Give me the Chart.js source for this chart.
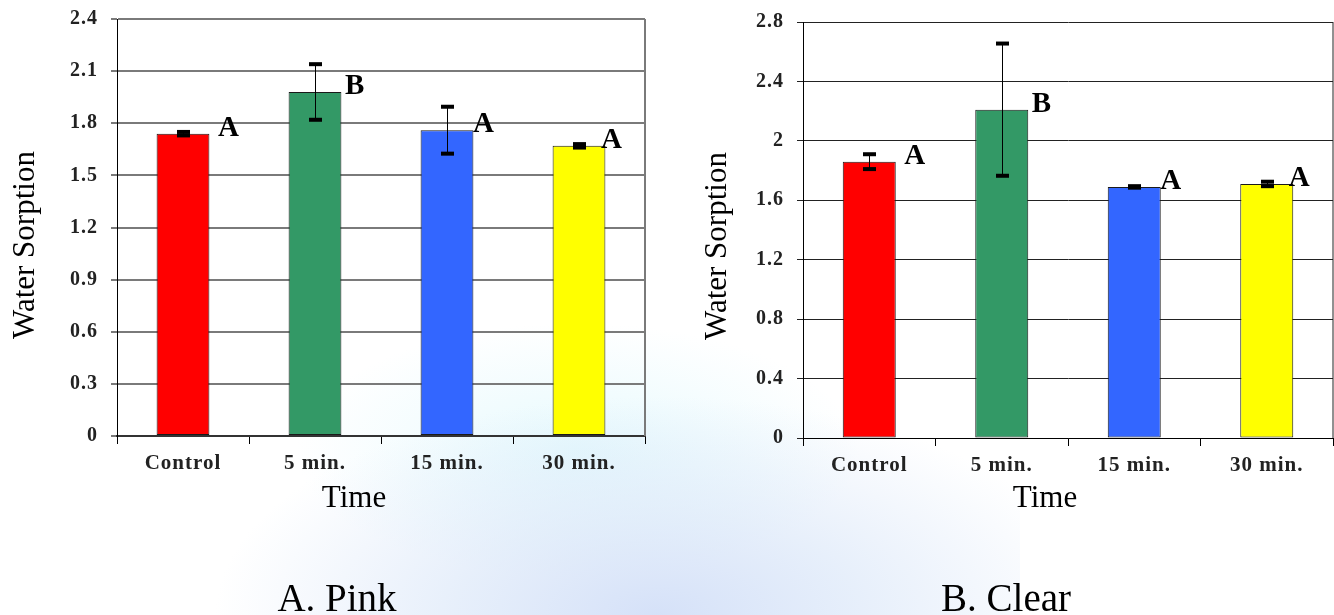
<!DOCTYPE html>
<html>
<head>
<meta charset="utf-8">
<script src="https://cdn.jsdelivr.net/npm/chart.js@4.4.0/dist/chart.umd.min.js"></script>
<style>
  html, body {
    margin: 0; padding: 0; background: #fff;
    width: 1334px; height: 615px; overflow: hidden; position: relative;
    font-family: "Liberation Serif", "Times New Roman", serif;
  }
  #haze {
    position: absolute; left: 215px; top: 250px; width: 805px; height: 365px;
    background:
      radial-gradient(ellipse 55% 60% at 55% 100%,
        rgba(206, 220, 247, 0.85) 0%,
        rgba(214, 228, 248, 0.6) 45%,
        rgba(255, 255, 255, 0) 100%),
      radial-gradient(ellipse 35% 35% at 45% 55%,
        rgba(214, 246, 252, 0.6) 0%,
        rgba(255, 255, 255, 0) 100%);
  }
  .panel { position: absolute; top: 0; height: 615px; }
  #pinkBox { left: 0; width: 660px; }
  #clearBox { left: 680px; width: 654px; }
  .caption {
    position: absolute; top: 578px; width: 300px; text-align: center;
    font-size: 39px; line-height: 39px; color: #000;
  }
</style>
</head>
<body>
<div id="haze"></div>
<div class="panel" id="pinkBox"><canvas id="pinkChart" width="660" height="615"></canvas></div>
<div class="panel" id="clearBox"><canvas id="clearChart" width="654" height="615"></canvas></div>
<div class="caption" style="left:187px">A. Pink</div>
<div class="caption" style="left:856px">B. Clear</div>

<script>
// Shared categories and bar colours
const categories = ['Control', '5 min.', '15 min.', '30 min.'];
const barColors = ['#ff0000', '#339966', '#3366ff', '#ffff00'];

// Pink resin: mean water sorption, standard deviation, significance groups
const pinkValues = [1.74, 1.98, 1.76, 1.67];
const pinkErrors = [0.01, 0.16, 0.135, 0.01];
const pinkLetters = ['A', 'B', 'A', 'A'];
const pinkTickValues = [0, 0.3, 0.6, 0.9, 1.2, 1.5, 1.8, 2.1, 2.4];
const pinkTickLabels = ['0', '0.3', '0.6', '0.9', '1.2', '1.5', '1.8', '2.1', '2.4'];

// Clear resin
const clearValues = [1.86, 2.21, 1.69, 1.71];
const clearErrors = [0.05, 0.445, 0.005, 0.015];
const clearLetters = ['A', 'B', 'A', 'A'];
const clearTickValues = [0, 0.4, 0.8, 1.2, 1.6, 2, 2.4, 2.8];
const clearTickLabels = ['0', '0.4', '0.8', '1.2', '1.6', '2', '2.4', '2.8'];

const yTitle = 'Water Sorption';
const xTitle = 'Time';

// Horizontal nudge of the group letters from each category centre
const letterDx = [35, 30, 26, 22];

const serif = '"Liberation Serif", "Times New Roman", serif';

// Error bars, group letters, right frame edge and axis titles
const annotate = {
  id: 'annotate',
  beforeDraw(chart) {
    chart.ctx.letterSpacing = '1px';
  },
  afterDatasetsDraw(chart, args, opts) {
    const ctx = chart.ctx;
    const xs = chart.scales.x, ys = chart.scales.y;
    const area = chart.chartArea;
    const meta = chart.getDatasetMeta(0);
    ctx.save();
    ctx.letterSpacing = '0px';

    // right edge of the plot frame
    ctx.strokeStyle = opts.frameColor;
    ctx.lineWidth = opts.frameWidth;
    ctx.beginPath();
    ctx.moveTo(area.right, area.top);
    ctx.lineTo(area.right, area.bottom);
    ctx.stroke();

    // error bars
    ctx.strokeStyle = '#000';
    ctx.fillStyle = '#000';
    ctx.lineWidth = 1;
    opts.values.forEach((v, i) => {
      const x = Math.round(meta.data[i].x) + 0.5;
      const yTop = ys.getPixelForValue(v + opts.errors[i]);
      const yBot = ys.getPixelForValue(v - opts.errors[i]);
      ctx.beginPath();
      ctx.moveTo(x, yTop);
      ctx.lineTo(x, yBot);
      ctx.stroke();
      ctx.fillRect(x - 6.5, yTop - 2, 13, 4);
      ctx.fillRect(x - 6.5, yBot - 2, 13, 4);
    });

    // significance letters
    ctx.font = 'bold 29px ' + serif;
    ctx.textAlign = 'left';
    ctx.textBaseline = 'alphabetic';
    opts.letters.forEach((t, i) => {
      ctx.fillText(t, xs.getPixelForValue(i) + letterDx[i], ys.getPixelForValue(opts.values[i]) + 2);
    });

    // axis titles
    ctx.font = '31px ' + serif;
    ctx.textAlign = 'center';
    ctx.fillText(xTitle, opts.xTitleX, opts.xTitleBase);
    ctx.translate(opts.yTitleBase, opts.yTitleY);
    ctx.rotate(-Math.PI / 2);
    ctx.fillText(yTitle, 0, 0);
    ctx.restore();
  }
};

function makeChart(id, values, errors, letters, tickValues, tickLabels, look) {
  return new Chart(document.getElementById(id), {
    type: 'bar',
    data: {
      labels: categories,
      datasets: [{
        data: values,
        backgroundColor: barColors,
        borderColor: '#1a1a1a',
        borderWidth: 1,
        borderSkipped: false,
        barPercentage: 0.4,
        categoryPercentage: 1.0
      }]
    },
    options: {
      responsive: false,
      animation: false,
      events: [],
      layout: { padding: { top: look.padTop, right: look.padRight, bottom: 95, left: 0 } },
      plugins: {
        legend: { display: false },
        tooltip: { enabled: false },
        title: { display: false },
        annotate: {
          values, errors, letters,
          frameColor: look.gridColor, frameWidth: look.gridWidth,
          xTitleX: look.xTitleX, xTitleBase: 507,
          yTitleBase: look.yTitleBase, yTitleY: look.yTitleY
        }
      },
      scales: {
        x: {
          offset: true,
          afterFit(scale) {
            scale.height = look.xHeight;
            scale.paddingLeft = 0;
            scale.paddingRight = 0;
          },
          grid: {
            offset: true, drawOnChartArea: false, drawTicks: true,
            tickLength: 8, color: '#000', lineWidth: 1
          },
          border: { display: true, color: look.xBorderColor, width: look.xBorderWidth },
          ticks: {
            autoSkip: false, maxRotation: 0, padding: 7,
            color: '#222',
            font: { family: serif, size: 21, weight: 'bold' }
          }
        },
        y: {
          min: 0,
          max: tickValues[tickValues.length - 1],
          afterFit(scale) {
            scale.width = look.yWidth;
            scale.paddingTop = 0;
            scale.paddingBottom = 0;
          },
          afterBuildTicks(scale) { scale.ticks = tickValues.map(v => ({ value: v })); },
          grid: {
            color: look.gridColor, lineWidth: look.gridWidth,
            drawTicks: true, tickLength: 6
          },
          border: { display: true, color: '#000', width: 1 },
          ticks: {
            padding: 13,
            color: '#222',
            font: { family: serif, size: 20, weight: 'bold' },
            callback: (v, i) => tickLabels[i]
          }
        }
      }
    },
    plugins: [annotate]
  });
}

makeChart('pinkChart', pinkValues, pinkErrors, pinkLetters, pinkTickValues, pinkTickLabels, {
  padTop: 19, padRight: 15, yWidth: 117, xHeight: 84,
  gridColor: '#7a7a7a', gridWidth: 2, xBorderColor: '#333', xBorderWidth: 2,
  xTitleX: 354, yTitleBase: 34, yTitleY: 245
});

makeChart('clearChart', clearValues, clearErrors, clearLetters, clearTickValues, clearTickLabels, {
  padTop: 22, padRight: 1, yWidth: 123, xHeight: 82,
  gridColor: '#222', gridWidth: 1, xBorderColor: '#000', xBorderWidth: 1,
  xTitleX: 365, yTitleBase: 46, yTitleY: 246
});
</script>
</body>
</html>
